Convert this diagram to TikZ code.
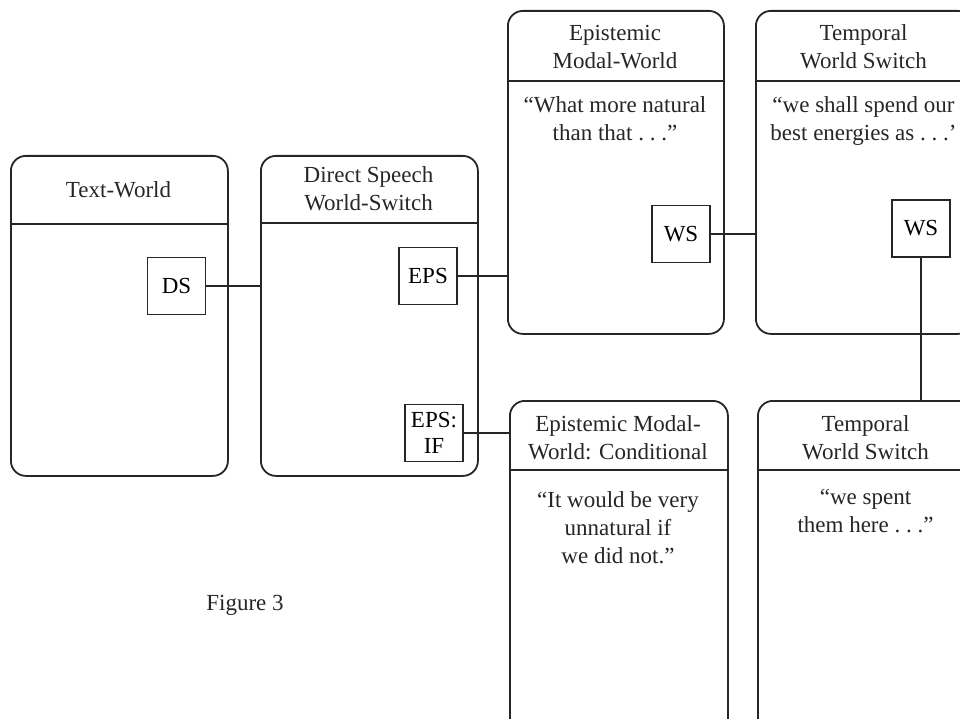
\documentclass[tikz,border=0pt]{standalone}
\usepackage{fontspec}
\setmainfont{Liberation Serif}
\begin{document}
\begin{tikzpicture}[x=1pt,y=-1pt,
  world/.style={draw=black!85, line width=1.8pt, rounded corners=15pt, rectangle, inner sep=0pt, anchor=north west},
  sbox/.style={draw=black!85, line width=1.5pt, rectangle, inner sep=0pt, minimum width=58pt, minimum height=57pt, align=center, font=\fontsize{23}{26}\selectfont},
  head/.style={align=center, font=\fontsize{23}{28}\selectfont, text=black!85},
  body/.style={align=center, font=\fontsize{23}{28}\selectfont, text=black!85, anchor=north},
  link/.style={draw=black!85, line width=1.6pt},
  hline/.style={draw=black!85, line width=1.8pt}]
\useasboundingbox (0,0) rectangle (960,719);
\clip (0,0) rectangle (960,719);
% worlds
\node[world, minimum width=217pt, minimum height=320pt] (tw) at (10,155) {};
\node[world, minimum width=217pt, minimum height=320pt] (dsw) at (260,155) {};
\node[world, minimum width=216pt, minimum height=323pt] (emw) at (507,10) {};
\node[world, minimum width=217pt, minimum height=323pt] (tws) at (755,10) {};
\node[world, minimum width=218pt, minimum height=335pt] (emc) at (509,400) {};
\node[world, minimum width=217pt, minimum height=335pt] (twl) at (757,400) {};
% header lines
\draw[hline] (10,224) -- (227,224);
\draw[hline] (260,223) -- (477,223);
\draw[hline] (507,81) -- (723,81);
\draw[hline] (755,81) -- (972,81);
\draw[hline] (509,470) -- (727,470);
\draw[hline] (757,470) -- (974,470);
% headers
\node[head] (h1) at (118.5,190) {Text-World};
\node[head] (h2) at (368.5,189) {Direct Speech\\World-Switch};
\node[head] (h3) at (615,47) {Epistemic\\Modal-World};
\node[head] (h4) at (863.5,47) {Temporal\\World Switch};
\node[head] (h5) at (618,438) {Epistemic Modal-\\World: Conditional};
\node[head] (h6) at (865.5,438) {Temporal\\World Switch};
% bodies
\node[body] (b3) at (615,93) {``What more natural\\than that .~.~.''};
\node[body] (b4) at (863.5,93) {``we shall spend our\\best energies as .~.~.'};
\node[body] (b5) at (618,488) {``It would be very\\unnatural if\\we did not.''};
\node[body] (b6) at (865.5,486) {``we spent\\them here .~.~.''};
% small boxes
\node[sbox] (ds) at (176.5,286) {DS};
\node[sbox] (eps) at (428,276) {EPS};
\node[sbox] (epsif) at (434,433) {EPS:\\IF};
\node[sbox] (ws1) at (681,234) {WS};
\node[sbox] (ws2) at (921,228.5) {WS};
% connectors
\draw[link] (ds.east) -- (ds.east -| dsw.west);
\draw[link] (eps.east) -- (eps.east -| emw.west);
\draw[link] (epsif.east) -- (epsif.east -| emc.west);
\draw[link] (ws1.east) -- (ws1.east -| tws.west);
\draw[link] (ws2.south) -- (ws2.south |- twl.north);
% caption
\node[head] (fig) at (245,605) {Figure 3};
\end{tikzpicture}
\end{document}
